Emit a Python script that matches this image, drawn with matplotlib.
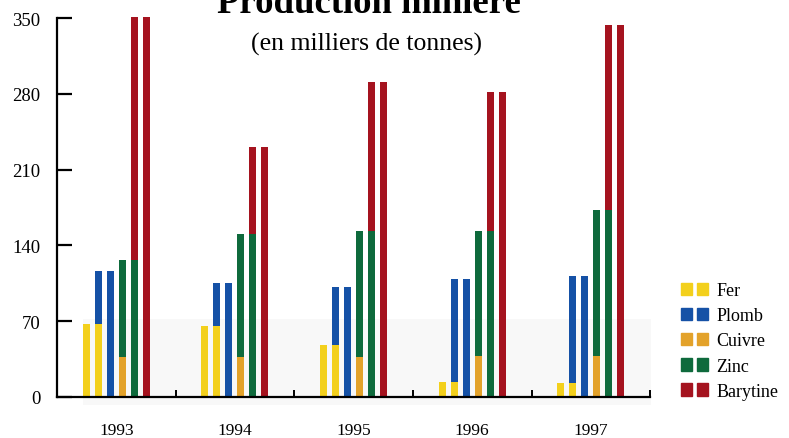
import numpy as np
import matplotlib
matplotlib.use("Agg")
import matplotlib.pyplot as plt
from matplotlib.patches import Patch, Rectangle
from matplotlib.legend_handler import HandlerTuple

years = ["1993", "1994", "1995", "1996", "1997"]
series = ["Fer", "Plomb", "Cuivre", "Zinc", "Barytine"]
fer = [67, 65.5, 48, 14, 13]
plomb = [116, 105, 102, 109, 112]
cuivre = [37, 37, 37, 38, 38]
zinc = [126.5, 150.5, 153.5, 153.5, 172.5]
barytine = [351, 231, 291, 282, 344]
colors = ["#f3d01c", "#1551a6", "#e3a22a", "#0e6a3c", "#a5131f"]

values = [fer, plomb, cuivre, zinc, barytine]

plt.rcParams['font.family'] = ['Liberation Serif', 'DejaVu Serif']

fig = plt.figure(figsize=(7.89, 4.39), dpi=100)
ax = fig.add_axes([0.0722, 0.0934, 0.824 - 0.0722, 0.9567 - 0.0934])

# faint scan shading behind the low part of the chart
ax.add_patch(Rectangle((0.105, 0.075), 0.72, 0.195, transform=fig.transFigure,
                       facecolor="#f8f8f8", edgecolor="none", zorder=0.5,
                       clip_on=False))

x = np.arange(len(years))
step = 0.101
strip_w = 0.059
# each series is drawn as two thin strips; neighbour series share a strip
for k in range(len(series) - 1, -1, -1):
    for j in (k, k + 1):
        ax.bar(x + (j - 2.5) * step, values[k], width=strip_w, color=colors[k],
               edgecolor="none", zorder=2 + (len(series) - k), clip_on=False)

ax.set_xlim(-0.5, 4.5)
ax.set_ylim(0, 350)
ax.set_yticks([0, 70, 140, 210, 280, 350])
ax.tick_params(axis="y", direction="in", length=11, width=1.6, pad=12, labelsize=13.5)
ax.set_xticks(x)
ax.set_xticklabels(years)
ax.tick_params(axis="x", which="major", length=0, pad=18, labelsize=12.5)
ax.set_xticks(np.arange(-0.5, 5, 1)[1:], minor=True)
ax.tick_params(axis="x", which="minor", direction="in", length=5, width=1.4)

for s in ("top", "right"):
    ax.spines[s].set_visible(False)
ax.spines["left"].set_linewidth(1.6)
ax.spines["bottom"].set_linewidth(1.6)
ax.spines["left"].set_zorder(10)
ax.spines["bottom"].set_zorder(10)

handles = [(Patch(color=c), Patch(color=c)) for c in colors]
fig.legend(handles, series, handler_map={tuple: HandlerTuple(ndivide=None, pad=0.25)},
           loc="center left", bbox_to_anchor=(0.843, 0.221), frameon=False,
           fontsize=13, handlelength=1.45, handleheight=0.7, labelspacing=0.45,
           handletextpad=0.5, borderpad=0.4)

fig.text(0.467, 0.970, "Production minière", ha="center", va="baseline",
         fontsize=26.5, fontweight="bold")
fig.text(0.465, 0.898, "(en milliers de tonnes)", ha="center", va="center", fontsize=18.5)

fig.savefig("out.png", dpi=100)
